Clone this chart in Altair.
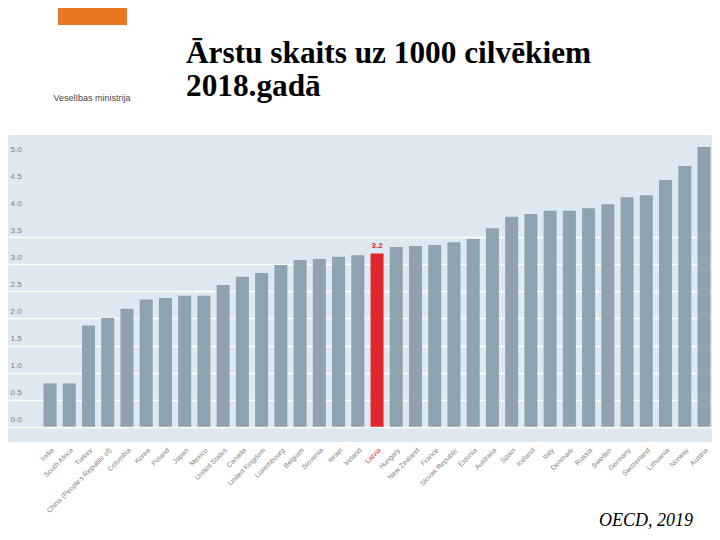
import altair as alt
import pandas as pd

countries = ["India", "South Africa", "Turkey", "China (People's Republic of)", "Colombia",
             "Korea", "Poland", "Japan", "Mexico", "United States", "Canada",
             "United Kingdom", "Luxembourg", "Belgium", "Slovenia", "Israel", "Ireland",
             "Latvia", "Hungary", "New Zealand", "France", "Slovak Republic", "Estonia",
             "Australia", "Spain", "Iceland", "Italy", "Denmark", "Russia", "Sweden",
             "Germany", "Switzerland", "Lithuania", "Norway", "Austria"]
values = [0.8, 0.8, 1.87, 2.01, 2.18,
          2.35, 2.38, 2.42, 2.42, 2.62, 2.77,
          2.84, 2.99, 3.08, 3.1, 3.14, 3.17,
          3.2, 3.32, 3.34, 3.36, 3.41, 3.47,
          3.67, 3.88, 3.93, 3.99, 3.99, 4.04, 4.11,
          4.24, 4.28, 4.56, 4.82, 5.17]
highlight = "Latvia"
highlight_label = "3.2"
y_ticks = [0.0, 0.5, 1.0, 1.5, 2.0, 2.5, 3.0, 3.5, 4.0, 4.5, 5.0]
title_lines = ["Ārstu skaits uz 1000 cilvēkiem", "2018.gadā"]
source_note = ["OECD, 2019"]
ministry = ["Veselības ministrija"]

PANEL = "#dde8f0"
BAR = "#8fa2af"
RED = "#e3262d"
GRAY = "#7f7f7f"

df = pd.DataFrame({"country": countries, "value": values})
df["hl"] = df["country"] == highlight

x_enc = alt.X(
    "country:N", sort=countries,
    scale=alt.Scale(paddingInner=0.324, paddingOuter=0.962, align=0.96),
    axis=alt.Axis(title=None, labelAngle=-45, labelAlign="right", labelBaseline="top",
                  labelFontSize=7, labelFont="Liberation Sans", labelPadding=4,
                  labelColor={"expr": f"datum.value == '{highlight}' ? '{RED}' : '{GRAY}'"},
                  ticks=False, domain=False, labelOverlap=False, labelLimit=200),
)
y_enc = alt.Y(
    "value:Q",
    scale=alt.Scale(domain=[-0.283, 5.392], nice=False, zero=False),
    axis=alt.Axis(title=None, values=y_ticks, format=".1f", grid=True, gridColor="white",
                  gridWidth=1.5, labelOverlap=False, labelFlush=False,
                  gridOpacity={"expr": "datum.value <= 3.5 ? 1 : 0"},
                  ticks=False, tickSize=0, domain=False, labelAlign="left", labelPadding=-2,
                  labelBaseline="bottom", labelOffset=-3, labelColor=GRAY, labelFontSize=8,
                  labelFont="Liberation Sans"),
)

bars = alt.Chart(df).mark_bar().encode(
    x=x_enc, y=y_enc,
    color=alt.condition(alt.datum.hl, alt.value(RED), alt.value(BAR)),
)

hl_text = alt.Chart(df[df["hl"]].assign(lbl=highlight_label)).mark_text(
    dy=-4, baseline="bottom", color=RED, fontSize=8, fontWeight="bold", font="Liberation Sans"
).encode(x=x_enc, y=y_enc, text="lbl:N")

t1 = alt.Chart(pd.DataFrame({"t": [title_lines[0]]})).mark_text(
    align="left", baseline="alphabetic", font="Liberation Serif", fontWeight="bold",
    fontSize=31.3, color="black"
).encode(text="t:N", x=alt.value(178), y=alt.value(-72))
t2 = alt.Chart(pd.DataFrame({"t": [title_lines[1]]})).mark_text(
    align="left", baseline="alphabetic", font="Liberation Serif", fontWeight="bold",
    fontSize=31.3, color="black"
).encode(text="t:N", x=alt.value(178), y=alt.value(-39))

src = alt.Chart(pd.DataFrame({"t": source_note})).mark_text(
    align="right", baseline="alphabetic", font="Liberation Serif", fontStyle="italic",
    fontSize=18, color="black"
).encode(text="t:N", x=alt.value(685), y=alt.value(391))

orange = alt.Chart(pd.DataFrame({"a": [1]})).mark_rect(color="#e87722").encode(
    x=alt.value(50), x2=alt.value(119), y=alt.value(-127), y2=alt.value(-110)
)
min_text = alt.Chart(pd.DataFrame({"t": ministry})).mark_text(
    align="center", baseline="alphabetic", font="Liberation Sans", fontSize=9, color="#444444"
).encode(text="t:N", x=alt.value(84), y=alt.value(-34))

chart = alt.layer(bars, hl_text, t1, t2, src, orange, min_text).properties(
    width=704, height=307, autosize="none",
    padding={"left": 0, "top": 127, "right": 0, "bottom": 90},
    background="white",
).configure_view(fill=PANEL, stroke=None)

chart.save("out.html", embed_options={"renderer": "svg", "actions": False})
